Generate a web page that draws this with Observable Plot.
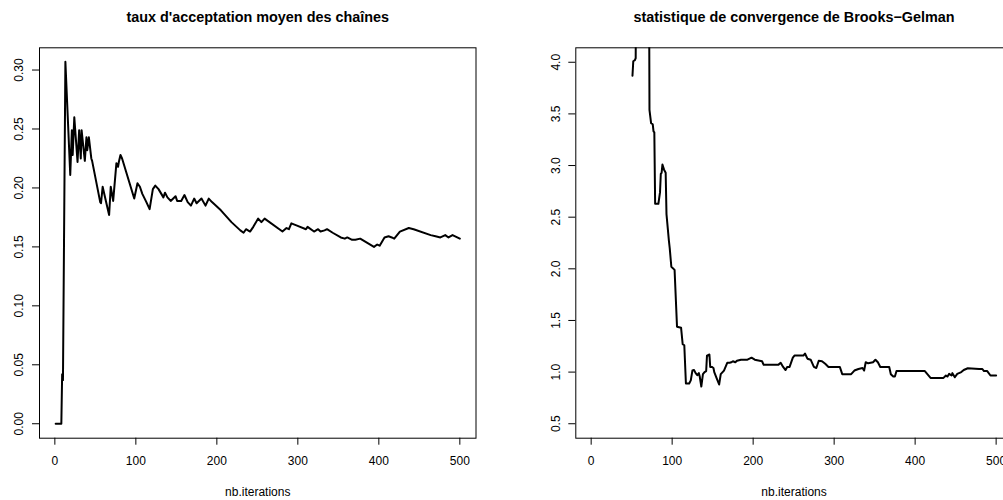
<!DOCTYPE html>
<html><head><meta charset="utf-8">
<script src="https://cdn.jsdelivr.net/npm/d3@7"></script>
<script src="https://cdn.jsdelivr.net/npm/@observablehq/plot@0.6"></script>
<style>
html,body{margin:0;padding:0;background:#fff;}
#wrap{position:relative;width:1003px;height:500px;overflow:hidden;background:#fff;}
#wrap svg{position:absolute;top:0;}
</style></head><body><div id="wrap"></div>
<script>
const xTicks = [0, 100, 200, 300, 400, 500];
const leftYTicks = [0, 0.05, 0.10, 0.15, 0.20, 0.25, 0.30];
const rightYTicks = [0.5, 1.0, 1.5, 2.0, 2.5, 3.0, 3.5, 4.0];
const leftTitle = "taux d'acceptation moyen des chaînes";
const rightTitle = "statistique de convergence de Brooks−Gelman";
const xLabel = "nb.iterations";

const leftIter = [1,8,9,10,13,19,21,22,24,28,30,32,33,37,39,40,42,45,46,56,57,59,63,67,69,72,76,78,79,81,83,98,102,105,108,113,117,121,124,128,134,136,139,143,149,151,156,160,164,168,172,175,181,186,190,194,205,218,229,233,236,241,245,251,255,259,281,286,289,292,299,310,312,320,325,328,333,336,343,353,358,361,367,371,377,394,398,401,407,412,416,419,426,437,443,464,470,476,482,486,491,500];
const leftRate = [0,0,0.042,0.037,0.307,0.211,0.249,0.228,0.260,0.222,0.249,0.225,0.249,0.223,0.243,0.232,0.243,0.225,0.223,0.188,0.187,0.201,0.189,0.177,0.201,0.189,0.221,0.218,0.222,0.228,0.225,0.191,0.204,0.201,0.195,0.188,0.182,0.199,0.202,0.199,0.192,0.196,0.192,0.189,0.193,0.189,0.189,0.194,0.188,0.185,0.191,0.187,0.191,0.185,0.191,0.188,0.181,0.171,0.164,0.162,0.165,0.163,0.167,0.174,0.171,0.174,0.163,0.166,0.165,0.170,0.168,0.165,0.167,0.163,0.165,0.163,0.164,0.165,0.162,0.158,0.157,0.158,0.156,0.156,0.157,0.150,0.152,0.151,0.158,0.159,0.158,0.157,0.163,0.166,0.165,0.160,0.159,0.158,0.160,0.158,0.160,0.157];

const rightIter = [51,52,54,55,56,63,71,72,74,76,77,78,79,83,85,86,87,88,90,92,93,96,97,99,103,106,111,113,115,117,121,123,125,127,129,131,133,134,136,138,140,142,143,146,147,149,151,152,155,158,160,164,168,171,173,175,178,180,185,193,198,202,208,211,213,231,234,237,240,242,245,249,251,262,264,267,271,275,278,281,285,289,293,307,310,321,325,330,335,337,339,342,348,351,354,357,368,370,373,375,377,412,419,435,438,440,442,445,446,449,452,457,460,465,479,483,485,489,493,500];
const rightStat = [3.87,4.01,4.02,4.04,6.5,7.2,6.0,3.54,3.41,3.40,3.33,3.32,2.63,2.63,2.74,2.92,2.93,3.01,2.96,2.93,2.53,2.27,2.20,2.02,1.99,1.44,1.43,1.27,1.26,0.89,0.89,0.92,1.015,1.02,0.99,0.97,0.99,0.96,0.86,0.98,1.00,1.01,1.16,1.17,1.05,1.05,1.04,1.00,0.94,0.88,0.98,1.015,1.09,1.09,1.095,1.105,1.095,1.11,1.12,1.12,1.14,1.12,1.11,1.105,1.07,1.07,1.09,1.05,1.02,1.05,1.05,1.14,1.16,1.16,1.18,1.13,1.12,1.05,1.04,1.11,1.105,1.08,1.05,1.05,0.98,0.98,1.015,1.03,1.04,1.015,1.095,1.085,1.095,1.12,1.095,1.05,1.05,0.98,0.957,0.957,1.01,1.01,0.944,0.944,0.967,0.957,0.983,0.967,0.99,0.95,0.983,1.00,1.02,1.037,1.03,1.03,1.01,1.01,0.967,0.967];

function panel({iter, vals, yDomain, yTicks, yFmt, title, width, mLeft, mRight}) {
  const data = iter.map((x, i) => ({x, y: vals[i]}));
  return Plot.plot({
    width, height: 500,
    marginTop: 47.3, marginBottom: 62.3, marginLeft: mLeft, marginRight: mRight,
    x: {domain: [-18.96, 519.96]},
    y: {domain: yDomain},
    style: {fontFamily: "'Liberation Sans', Arial, sans-serif", fontSize: "12px", color: "#000", background: "transparent", overflow: "visible"},
    marks: [
      Plot.axisX(xTicks, {tickSize: 7, tickPadding: 16, lineAnchor: "middle", fontSize: 12, label: null, stroke: "#000"}),
      Plot.axisY(yTicks, {tickSize: 7, tickPadding: 13, tickRotate: -90, textAnchor: "middle", lineAnchor: "middle", tickFormat: yFmt, fontSize: 12, label: null, stroke: "#000"}),
      Plot.line(data, {x: "x", y: "y", stroke: "#000", strokeWidth: 2, clip: true}),
      Plot.frame({stroke: "#000", strokeWidth: 1}),
      Plot.text([title], {text: d => d, frameAnchor: "top", dy: -30.3, fontWeight: "bold", fontSize: 14.4, lineAnchor: "middle"}),
      Plot.text([xLabel], {text: d => d, frameAnchor: "bottom", dy: 54, fontSize: 12, lineAnchor: "middle"})
    ]
  });
}

const wrap = document.getElementById("wrap");
const left = panel({iter: leftIter, vals: leftRate, yDomain: [-0.01226, 0.31886], yTicks: leftYTicks,
  yFmt: d => d.toFixed(2), title: leftTitle, width: 501, mLeft: 39, mRight: 25.5});
left.style.left = "0px";
wrap.appendChild(left);
const right = panel({iter: rightIter, vals: rightStat, yDomain: [0.36, 4.14], yTicks: rightYTicks,
  yFmt: d => d.toFixed(1), title: rightTitle, width: 540, mLeft: 74.3, mRight: 29.2});
right.style.left = "501px";
wrap.appendChild(right);
</script></body></html>
